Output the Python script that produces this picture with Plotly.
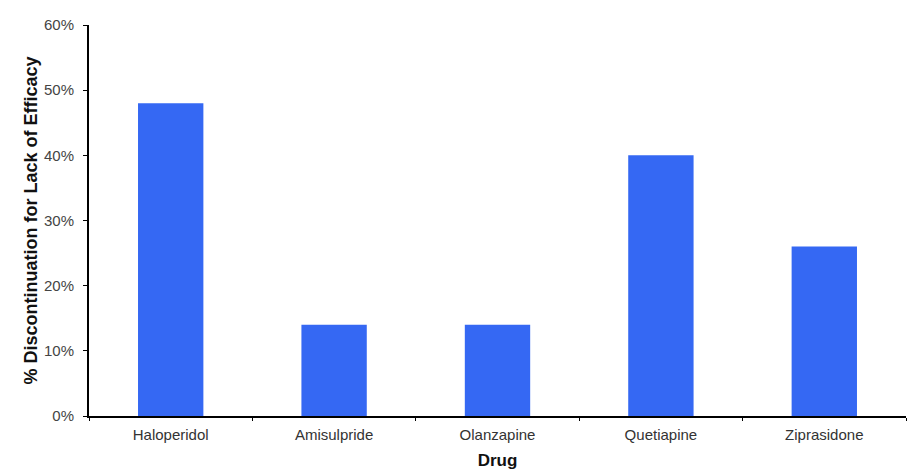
import plotly.graph_objects as go

drugs = ["Haloperidol", "Amisulpride", "Olanzapine", "Quetiapine", "Ziprasidone"]
discontinuation_pct = [0.48, 0.14, 0.14, 0.40, 0.26]
y_ticks = [0, 0.1, 0.2, 0.3, 0.4, 0.5, 0.6]

fig = go.Figure(go.Bar(
    x=drugs, y=discontinuation_pct,
    marker=dict(color="#3568F3", line=dict(width=0)),
    width=0.4,
))

fig.update_layout(
    width=917, height=470,
    margin=dict(l=89, r=11, t=25, b=54, autoexpand=False),
    paper_bgcolor="white", plot_bgcolor="white",
    font=dict(family="Liberation Sans, Arial, sans-serif", size=15, color="#222"),
    showlegend=False,
)
fig.update_xaxes(
    title=dict(text="<b>Drug</b>", font=dict(size=17, color="#111"), standoff=12),
    showline=True, linecolor="black", linewidth=2,
    ticks="outside", tickson="boundaries", ticklen=3, tickcolor="black",
    ticklabelstandoff=4,
    showgrid=False, tickfont=dict(size=15, color="#333"), automargin=False,
)
fig.update_yaxes(
    title=dict(text="<b>% Discontinuation for Lack of Efficacy</b>", font=dict(size=18, color="#111"), standoff=2),
    range=[0, 0.6], tickvals=y_ticks, tickformat=".0%",
    showline=True, linecolor="black", linewidth=2,
    ticks="outside", ticklen=4, tickcolor="black",
    ticklabelstandoff=6,
    showgrid=False, zeroline=False, tickfont=dict(size=15, color="#444"), automargin=False,
)

fig.write_html("out.html", config={"displayModeBar": False},
               post_script="document.body.style.margin='0';")
